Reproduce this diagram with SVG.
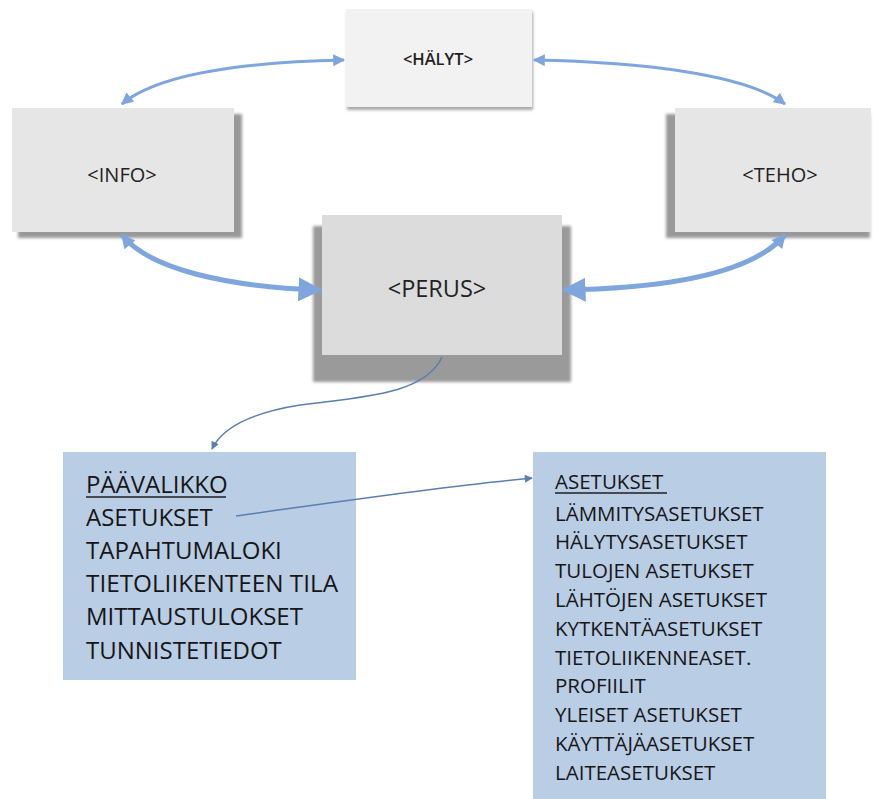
<svg xmlns="http://www.w3.org/2000/svg" width="884" height="799" viewBox="0 0 884 799">
<style>
.lbl{font-family:"Open Sans","Liberation Sans",sans-serif;fill:#222;}
.box{stroke:none;}
.big{stroke:#7ea6dc;fill:none;}
.thin{stroke:#5a7eb0;fill:none;stroke-width:1.5;}
.menu{font-family:"Open Sans","Liberation Sans",sans-serif;fill:#161616;}
</style>
<defs>
<filter id="blur" x="-10%" y="-10%" width="120%" height="120%"><feGaussianBlur stdDeviation="1.5"/></filter>
<marker id="ah" viewBox="0 0 10 10" refX="9" refY="5" markerWidth="14" markerHeight="12" markerUnits="userSpaceOnUse" orient="auto-start-reverse"><path d="M0,0 L10,5 L0,10 z" fill="#7ea6dc"/></marker>
<marker id="ahB" viewBox="0 0 10 10" refX="9" refY="5" markerWidth="24" markerHeight="24" markerUnits="userSpaceOnUse" orient="auto"><path d="M0,0 L10,5 L0,10 z" fill="#7ea6dc"/></marker>
<marker id="ahS" viewBox="0 0 10 10" refX="9" refY="5" markerWidth="16" markerHeight="14" markerUnits="userSpaceOnUse" orient="auto-start-reverse"><path d="M0,0 L10,5 L0,10 z" fill="#7ea6dc"/></marker>
<marker id="ahT" viewBox="0 0 10 10" refX="9" refY="5" markerWidth="9" markerHeight="8" markerUnits="userSpaceOnUse" orient="auto"><path d="M0,0 L10,5 L0,10 z" fill="#5a7eb0"/></marker>
</defs>
<rect width="884" height="799" fill="#fff"/>

<g id="halyt">
<rect x="347" y="12" width="186" height="98" fill="#a8a8a8" filter="url(#blur)"/>
<rect class="box" x="346" y="9" width="186" height="98" fill="#f2f2f2"/>
<text class="lbl" x="438" y="65" font-size="16.5" font-weight="600" text-anchor="middle">&lt;HÄLYT&gt;</text>
</g>

<g id="info">
<rect x="18" y="114" width="224" height="124" fill="#999" filter="url(#blur)"/>
<rect class="box" x="12" y="108" width="222" height="124" fill="#e6e6e6"/>
<text class="lbl" x="122" y="182" font-size="20" text-anchor="middle">&lt;INFO&gt;</text>
</g>

<g id="teho">
<rect x="666" y="114" width="204" height="124" fill="#999" filter="url(#blur)"/>
<rect class="box" x="675" y="108" width="196" height="124" fill="#e6e6e6"/>
<text class="lbl" x="780" y="182" font-size="20" text-anchor="middle">&lt;TEHO&gt;</text>
</g>

<g id="perus">
<rect x="313" y="226" width="258" height="156" fill="#9a9a9a" filter="url(#blur)"/>
<rect class="box" x="322" y="215" width="240" height="140" fill="#dcdcdc"/>
<text class="lbl" x="437" y="297" font-size="23.5" text-anchor="middle">&lt;PERUS&gt;</text>
</g>

<g id="paavalikko">
<rect class="box" x="63" y="452" width="293" height="228" fill="#b9cde5"/>
<text class="menu" font-size="24">
<tspan x="86" y="493">PÄÄVALIKKO</tspan>
<tspan x="86" y="526">ASETUKSET</tspan>
<tspan x="86" y="559">TAPAHTUMALOKI</tspan>
<tspan x="86" y="592" textLength="252" lengthAdjust="spacingAndGlyphs">TIETOLIIKENTEEN TILA</tspan>
<tspan x="86" y="625">MITTAUSTULOKSET</tspan>
<tspan x="86" y="659">TUNNISTETIEDOT</tspan>
</text>
<line x1="86" y1="497" x2="226" y2="497" stroke="#1f1f1f" stroke-width="1.5"/>
</g>

<g id="asetukset">
<rect class="box" x="533" y="452" width="293" height="347" fill="#b9cde5"/>
<text class="menu" font-size="20.5">
<tspan x="555" y="489">ASETUKSET</tspan>
<tspan x="555" y="521">LÄMMITYSASETUKSET</tspan>
<tspan x="555" y="549">HÄLYTYSASETUKSET</tspan>
<tspan x="555" y="578">TULOJEN ASETUKSET</tspan>
<tspan x="555" y="607">LÄHTÖJEN ASETUKSET</tspan>
<tspan x="555" y="636">KYTKENTÄASETUKSET</tspan>
<tspan x="555" y="665">TIETOLIIKENNEASET.</tspan>
<tspan x="555" y="693">PROFIILIT</tspan>
<tspan x="555" y="722">YLEISET ASETUKSET</tspan>
<tspan x="555" y="751">KÄYTTÄJÄASETUKSET</tspan>
<tspan x="555" y="780">LAITEASETUKSET</tspan>
</text>
<line x1="555" y1="493" x2="667" y2="493" stroke="#1f1f1f" stroke-width="1.3"/>
</g>

<g id="connectors">
<path class="big" stroke-width="3" d="M344 60 C250 62 160 72 122 104" marker-start="url(#ah)" marker-end="url(#ah)"/>
<path class="big" stroke-width="3" d="M534 60 C640 62 745 74 785 104" marker-start="url(#ah)" marker-end="url(#ah)"/>
<path class="big" stroke-width="5" d="M122 235 C150 270 230 287 320 290" marker-start="url(#ahS)" marker-end="url(#ahB)"/>
<path class="big" stroke-width="5" d="M785 235 C755 270 680 288 564 290" marker-start="url(#ahS)" marker-end="url(#ahB)"/>
<path class="thin" d="M442 357 C425 395 360 397 300 405 C250 413 222 428 212 449" marker-end="url(#ahT)"/>
<path class="thin" d="M236 516 C330 503 430 488 532 478" marker-end="url(#ahT)"/>
</g>
</svg>
